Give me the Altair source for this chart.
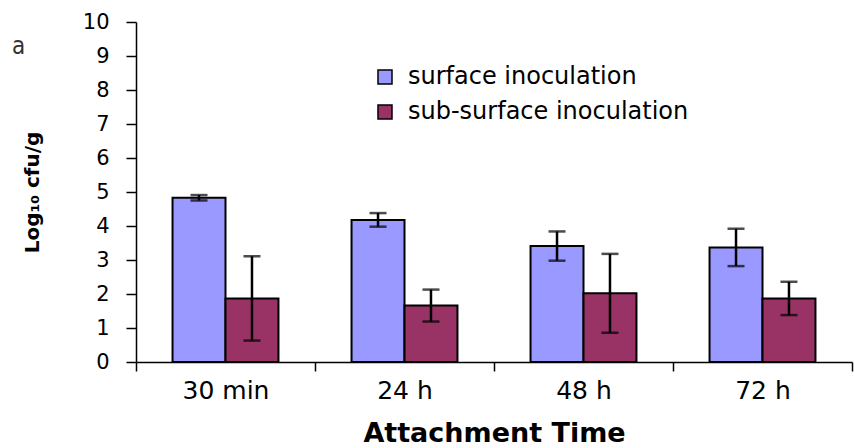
import altair as alt
import pandas as pd

times = ["30 min", "24 h", "48 h", "72 h"]
series = ["surface inoculation", "sub-surface inoculation"]
surface_mean = [4.83, 4.18, 3.41, 3.37]
surface_err = [0.08, 0.20, 0.43, 0.55]
sub_mean = [1.87, 1.66, 2.02, 1.87]
sub_err = [1.24, 0.47, 1.16, 0.49]
y_ticks = [0, 1, 2, 3, 4, 5, 6, 7, 8, 9, 10]
colors = ["#9999FF", "#993366"]

rows = []
for i, t in enumerate(times):
    rows.append({"time": t, "series": series[0], "value": surface_mean[i], "err": surface_err[i]})
    rows.append({"time": t, "series": series[1], "value": sub_mean[i], "err": sub_err[i]})
df = pd.DataFrame(rows)

FONT = "DejaVu Sans"

base = alt.Chart(df).transform_calculate(
    lo="datum.value - datum.err", hi="datum.value + datum.err"
)

x_enc = alt.X(
    "time:N", sort=times,
    scale=alt.Scale(paddingInner=0, paddingOuter=0),
    axis=alt.Axis(labelAngle=0, title="Attachment Time"),
)
xo_enc = alt.XOffset("series:N", sort=series, scale=alt.Scale(paddingOuter=0.69, paddingInner=0))

y_axis = alt.Axis(values=y_ticks, title="Log₁₀ cfu/g")
y_scale = alt.Scale(domain=[0, 10], nice=False)


def y_enc(field):
    return alt.Y(field, scale=y_scale, axis=y_axis)


bars = base.mark_bar(stroke="black", strokeWidth=2).encode(
    x=x_enc,
    xOffset=xo_enc,
    y=y_enc("value:Q"),
    color=alt.Color(
        "series:N", sort=series,
        scale=alt.Scale(domain=series, range=colors),
        legend=alt.Legend(
            title=None, orient="none", legendX=237, legendY=43, padding=0,
            symbolType="square", symbolSize=196, symbolStrokeColor="black", symbolStrokeWidth=1.5,
            labelFont=FONT, labelFontSize=24, labelColor="black", labelOffset=11,
            rowPadding=11, labelLimit=500,
        ),
    ),
)

rules = base.mark_rule(color="black", strokeWidth=2.5).encode(
    x=x_enc, xOffset=xo_enc, y=y_enc("lo:Q"), y2="hi:Q"
)
cap_lo = base.mark_tick(color="black", size=17, thickness=2.5).encode(
    x=x_enc, xOffset=xo_enc, y=y_enc("lo:Q")
)
cap_hi = base.mark_tick(color="black", size=17, thickness=2.5).encode(
    x=x_enc, xOffset=xo_enc, y=y_enc("hi:Q")
)

chart = alt.layer(bars, rules, cap_lo, cap_hi).properties(
    width=716, height=340,
    title=alt.Title("a", anchor="start", frame="group", dx=-124, dy=52,
                    font="Liberation Sans Narrow, DejaVu Sans Condensed, sans-serif",
                    fontSize=24, fontWeight="normal", color="#333333", baseline="top"),
    autosize=alt.AutoSizeParams(type="none"),
    padding={"left": 136, "top": 22, "right": 2, "bottom": 86},
    background="white",
).configure_view(stroke=None).configure_axis(
    grid=False, labelFont=FONT, labelColor="black", tickColor="black", tickWidth=1.5,
    domainColor="black", domainWidth=1.5, titleFont=FONT, titleFontWeight="bold",
    titleColor="black",
).configure_axisX(
    labelFontSize=25, labelPadding=7, tickSize=9, tickBand="extent",
    titleFontSize=27, titleY=79, titleBaseline="alphabetic",
).configure_axisY(
    labelFontSize=21, labelPadding=17, labelOverlap=False, labelFlush=False, tickSize=10,
    titleFontSize=20, titleX=-104, titleY=170, titleAngle=270, titleAlign="center",
    titleBaseline="middle",
)

chart.save("out.html", embed_options={"renderer": "svg", "actions": False})
